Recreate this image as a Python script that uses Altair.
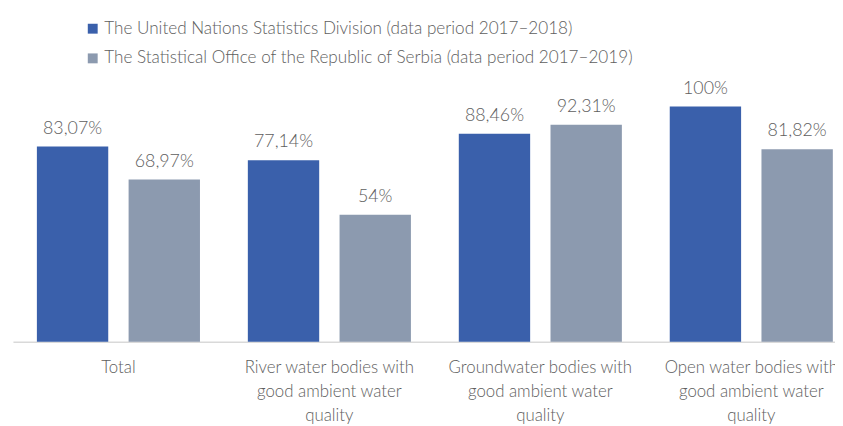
import altair as alt
import pandas as pd

categories = [
    "Total",
    "River water bodies with|good ambient water|quality",
    "Groundwater bodies with|good ambient water|quality",
    "Open water bodies with|good ambient water|quality",
]
series = [
    "The United Nations Statistics Division (data period 2017–2018)",
    "The Statistical Office of the Republic of Serbia (data period 2017–2019)",
]
un_values = [83.07, 77.14, 88.46, 100.0]
serbia_values = [68.97, 54.0, 92.31, 81.82]
un_labels = ["83,07%", "77,14%", "88,46%", "100%"]
serbia_labels = ["68,97%", "54%", "92,31%", "81,82%"]
colors = ["#3A60AB", "#8C9AAF"]

rows = []
for i, c in enumerate(categories):
    rows.append({"category": c, "series": series[0], "value": un_values[i], "label": un_labels[i]})
    rows.append({"category": c, "series": series[1], "value": serbia_values[i], "label": serbia_labels[i]})
df = pd.DataFrame(rows)

FONT = "Lato, Roboto, sans-serif"
TXT = "#5E5E5E"

x = alt.X("category:N", sort=categories,
          scale=alt.Scale(paddingInner=0, paddingOuter=0, range=[0, 853]),
          axis=alt.Axis(title=None, labelAngle=0, ticks=False, domainColor="#D9D9D9",
                        domainWidth=1.5, labelFontSize=17, labelColor=TXT, labelFont=FONT,
                        labelPadding=18, labelLineHeight=24.5, labelBaseline="top",
                        labelFontWeight=300, labelLimit=300,
                        labelExpr="split(datum.label, '|')"))
xo = alt.XOffset("series:N", sort=series,
                 scale=alt.Scale(paddingInner=0.222, paddingOuter=0.261))
y = alt.Y("value:Q", scale=alt.Scale(domain=[0, 141], nice=False), axis=None)

base = alt.Chart(df).encode(x=x, xOffset=xo, y=y)

bars = base.mark_bar().encode(
    color=alt.Color("series:N", sort=series,
                    scale=alt.Scale(domain=series, range=colors),
                    legend=alt.Legend(title=None, orient="none", legendX=72, legendY=10,
                                      symbolType="square", symbolSize=100,
                                      symbolStrokeWidth=0, labelFontSize=17.3,
                                      labelColor=TXT, labelFont=FONT, labelFontWeight=300,
                                      rowPadding=12, labelOffset=3, labelLimit=900))
)
text = base.mark_text(baseline="bottom", dy=-9, fontSize=18, font=FONT, color=TXT,
                      fontWeight=300).encode(text="label:N")

chart = (bars + text).properties(
    width=831, height=335,
    autosize=alt.AutoSizeParams(type="none"),
    padding={"left": 5, "top": 0, "right": 0, "bottom": 83},
).configure_view(stroke=None)

chart.save("out.html", embed_options={"renderer": "svg", "actions": False})
